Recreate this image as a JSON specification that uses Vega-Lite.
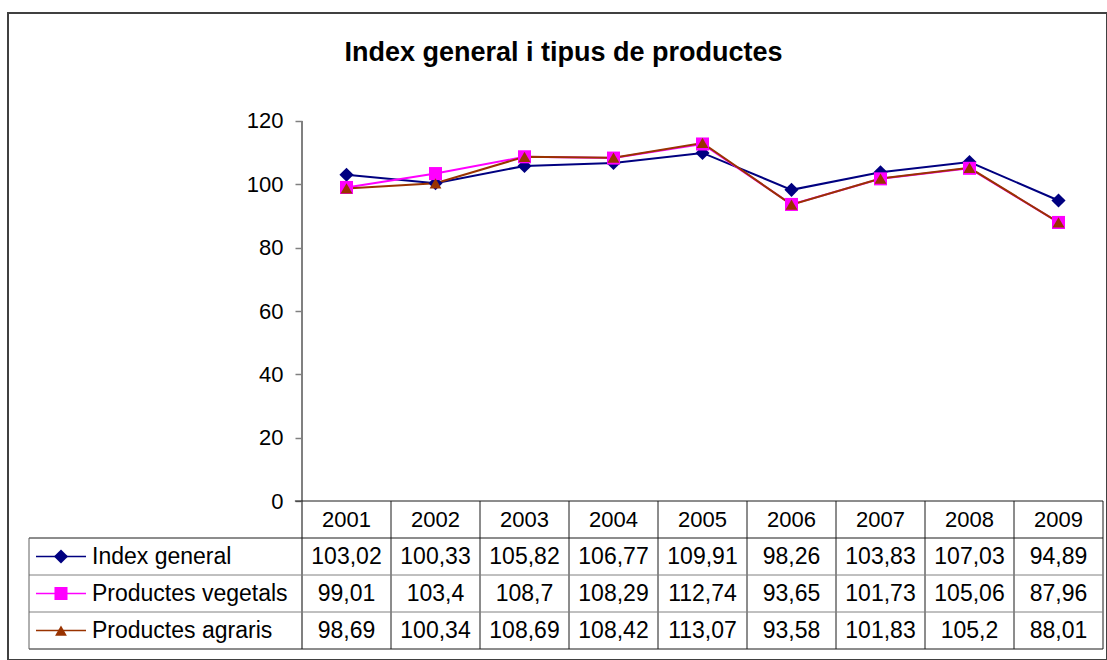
{
  "$schema": "https://vega.github.io/schema/vega-lite/v6.json",
  "width": 1099,
  "height": 647,
  "autosize": {"type": "none"},
  "padding": {"left": 8, "top": 13, "right": 0, "bottom": 0},
  "background": "white",
  "config": {
    "view": {"stroke": "#404040", "strokeWidth": 2},
    "font": "Liberation Sans",
    "text": {"font": "Liberation Sans", "fontSize": 23, "color": "black", "baseline": "middle"}
  },
  "title": {
    "text": "Index general i tipus de productes",
    "font": "Liberation Sans",
    "fontSize": 27,
    "fontWeight": "bold",
    "color": "black",
    "anchor": "middle",
    "frame": "group",
    "offset": 0,
    "baseline": "alphabetic",
    "dy": 75,
    "dx": 6
  },
  "datasets": {
    "series": [
      {"year": 2001, "series": "Index general", "value": 103.02},
      {"year": 2002, "series": "Index general", "value": 100.33},
      {"year": 2003, "series": "Index general", "value": 105.82},
      {"year": 2004, "series": "Index general", "value": 106.77},
      {"year": 2005, "series": "Index general", "value": 109.91},
      {"year": 2006, "series": "Index general", "value": 98.26},
      {"year": 2007, "series": "Index general", "value": 103.83},
      {"year": 2008, "series": "Index general", "value": 107.03},
      {"year": 2009, "series": "Index general", "value": 94.89},
      {"year": 2001, "series": "Productes vegetals", "value": 99.01},
      {"year": 2002, "series": "Productes vegetals", "value": 103.4},
      {"year": 2003, "series": "Productes vegetals", "value": 108.7},
      {"year": 2004, "series": "Productes vegetals", "value": 108.29},
      {"year": 2005, "series": "Productes vegetals", "value": 112.74},
      {"year": 2006, "series": "Productes vegetals", "value": 93.65},
      {"year": 2007, "series": "Productes vegetals", "value": 101.73},
      {"year": 2008, "series": "Productes vegetals", "value": 105.06},
      {"year": 2009, "series": "Productes vegetals", "value": 87.96},
      {"year": 2001, "series": "Productes agraris", "value": 98.69},
      {"year": 2002, "series": "Productes agraris", "value": 100.34},
      {"year": 2003, "series": "Productes agraris", "value": 108.69},
      {"year": 2004, "series": "Productes agraris", "value": 108.42},
      {"year": 2005, "series": "Productes agraris", "value": 113.07},
      {"year": 2006, "series": "Productes agraris", "value": 93.58},
      {"year": 2007, "series": "Productes agraris", "value": 101.83},
      {"year": 2008, "series": "Productes agraris", "value": 105.2},
      {"year": 2009, "series": "Productes agraris", "value": 88.01}
    ],
    "years": [
      {"year": 2001}, {"year": 2002}, {"year": 2003}, {"year": 2004}, {"year": 2005},
      {"year": 2006}, {"year": 2007}, {"year": 2008}, {"year": 2009}
    ],
    "names": [
      {"series": "Index general"},
      {"series": "Productes vegetals"},
      {"series": "Productes agraris"}
    ],
    "one": [{}]
  },
  "resolve": {"scale": {"y": "independent"}},
  "layer": [
    {
      "data": {"name": "one"},
      "mark": {"type": "rule", "color": "#808080", "strokeWidth": 2},
      "encoding": {
        "x": {"datum": 2000.5, "type": "quantitative", "scale": {"domain": [1997.1966, 2009.5449], "nice": false, "zero": false}, "axis": null},
        "y": {"datum": 0, "type": "quantitative", "scale": {"domain": [-50.21, 154.105], "nice": false, "zero": false}, "axis": null},
        "y2": {"datum": 120}
      }
    },
    {
      "data": {"name": "one"},
      "mark": {"type": "rule", "color": "#808080", "strokeWidth": 2},
      "encoding": {
        "x": {"datum": 2000.5, "type": "quantitative", "scale": {"domain": [1997.1966, 2009.5449], "nice": false, "zero": false}, "axis": null},
        "y": {"datum": 0, "type": "quantitative", "scale": {"domain": [-13.189, 4.297], "nice": false, "zero": false, "reverse": true}, "axis": null},
        "y2": {"datum": 4}
      }
    },
    {
      "data": {"name": "years"},
      "transform": [{"calculate": "datum.year + 0.5", "as": "edge"}],
      "mark": {"type": "rule", "color": "#1a1a1a", "strokeWidth": 1},
      "encoding": {
        "x": {"field": "edge", "type": "quantitative", "scale": {"domain": [1997.1966, 2009.5449], "nice": false, "zero": false}, "axis": null},
        "y": {"datum": 0, "type": "quantitative", "scale": {"domain": [-13.189, 4.297], "nice": false, "zero": false, "reverse": true}, "axis": null},
        "y2": {"datum": 4}
      }
    },
    {
      "data": {"name": "one"},
      "mark": {"type": "rule", "color": "#1a1a1a", "strokeWidth": 1},
      "encoding": {
        "x": {"datum": 2000.42, "type": "quantitative", "scale": {"domain": [1997.1966, 2009.5449], "nice": false, "zero": false}, "axis": null},
        "x2": {"datum": 2009.5},
        "y": {"datum": 0, "type": "quantitative", "scale": {"domain": [-13.189, 4.297], "nice": false, "zero": false, "reverse": true}, "axis": null}
      }
    },
    {
      "data": {"name": "names"},
      "transform": [
        {"calculate": "indexof(['Index general','Productes vegetals','Productes agraris'], datum.series) + 1", "as": "row"}
      ],
      "mark": {"type": "rule", "strokeWidth": 1},
      "encoding": {
        "x": {"datum": 1997.4326, "type": "quantitative", "scale": {"domain": [1997.1966, 2009.5449], "nice": false, "zero": false}, "axis": null},
        "x2": {"datum": 2009.5},
        "y": {"field": "row", "type": "quantitative", "scale": {"domain": [-13.189, 4.297], "nice": false, "zero": false, "reverse": true}, "axis": null},
        "color": {"condition": {"test": "datum.row == 1", "value": "#1a1a1a"}, "value": "#808080"}
      }
    },
    {
      "data": {"name": "one"},
      "mark": {"type": "rule", "color": "#1a1a1a", "strokeWidth": 1},
      "encoding": {
        "x": {"datum": 1997.4326, "type": "quantitative", "scale": {"domain": [1997.1966, 2009.5449], "nice": false, "zero": false}, "axis": null},
        "x2": {"datum": 2009.5},
        "y": {"datum": 4, "type": "quantitative", "scale": {"domain": [-13.189, 4.297], "nice": false, "zero": false, "reverse": true}, "axis": null}
      }
    },
    {
      "data": {"name": "one"},
      "mark": {"type": "rule", "color": "#606060", "strokeWidth": 1},
      "encoding": {
        "x": {"datum": 1997.4326, "type": "quantitative", "scale": {"domain": [1997.1966, 2009.5449], "nice": false, "zero": false}, "axis": null},
        "y": {"datum": 1, "type": "quantitative", "scale": {"domain": [-13.189, 4.297], "nice": false, "zero": false, "reverse": true}, "axis": null},
        "y2": {"datum": 4}
      }
    },
    {
      "data": {"name": "series"},
      "mark": {"type": "line", "strokeWidth": 2},
      "encoding": {
        "x": {"field": "year", "type": "quantitative", "scale": {"domain": [1997.1966, 2009.5449], "nice": false, "zero": false}, "axis": null},
        "y": {
          "field": "value", "type": "quantitative",
          "scale": {"domain": [-50.21, 154.105], "nice": false, "zero": false},
          "axis": {
            "values": [0, 20, 40, 60, 80, 100, 120],
            "domain": false, "grid": false,
            "offset": -294,
            "tickColor": "#808080", "tickSize": 7, "tickWidth": 1.5,
            "labelFont": "Liberation Sans", "labelFontSize": 22, "labelColor": "black",
            "labelPadding": 12, "title": null
          }
        },
        "color": {
          "field": "series", "type": "nominal",
          "scale": {"domain": ["Index general", "Productes vegetals", "Productes agraris"], "range": ["#000080", "#FF00FF", "#993300"]},
          "legend": null
        }
      }
    },
    {
      "data": {"name": "series"},
      "mark": {"type": "point", "filled": true, "opacity": 1},
      "encoding": {
        "x": {"field": "year", "type": "quantitative", "scale": {"domain": [1997.1966, 2009.5449], "nice": false, "zero": false}, "axis": null},
        "y": {"field": "value", "type": "quantitative", "scale": {"domain": [-50.21, 154.105], "nice": false, "zero": false}, "axis": null},
        "color": {
          "field": "series", "type": "nominal",
          "scale": {"domain": ["Index general", "Productes vegetals", "Productes agraris"], "range": ["#000080", "#FF00FF", "#993300"]},
          "legend": null
        },
        "shape": {
          "field": "series", "type": "nominal",
          "scale": {"domain": ["Index general", "Productes vegetals", "Productes agraris"], "range": ["diamond", "square", "triangle-up"]},
          "legend": null
        },
        "size": {
          "field": "series", "type": "nominal",
          "scale": {"domain": ["Index general", "Productes vegetals", "Productes agraris"], "range": [200, 140, 220]},
          "legend": null
        }
      }
    },
    {
      "data": {"name": "years"},
      "mark": {"type": "text", "align": "center", "fontSize": 22},
      "encoding": {
        "x": {"field": "year", "type": "quantitative", "scale": {"domain": [1997.1966, 2009.5449], "nice": false, "zero": false}, "axis": null},
        "y": {"datum": 0.5, "type": "quantitative", "scale": {"domain": [-13.189, 4.297], "nice": false, "zero": false, "reverse": true}, "axis": null},
        "text": {"field": "year", "type": "nominal"}
      }
    },
    {
      "data": {"name": "series"},
      "transform": [
        {"calculate": "indexof(['Index general','Productes vegetals','Productes agraris'], datum.series) + 1.5", "as": "rc"},
        {"calculate": "replace(format(datum.value, '.2~f'), '.', ',')", "as": "label"}
      ],
      "mark": {"type": "text", "align": "center"},
      "encoding": {
        "x": {"field": "year", "type": "quantitative", "scale": {"domain": [1997.1966, 2009.5449], "nice": false, "zero": false}, "axis": null},
        "y": {"field": "rc", "type": "quantitative", "scale": {"domain": [-13.189, 4.297], "nice": false, "zero": false, "reverse": true}, "axis": null},
        "text": {"field": "label", "type": "nominal"}
      }
    },
    {
      "data": {"name": "names"},
      "transform": [
        {"calculate": "indexof(['Index general','Productes vegetals','Productes agraris'], datum.series) + 1.5", "as": "rc"}
      ],
      "mark": {"type": "text", "align": "left"},
      "encoding": {
        "x": {"datum": 1998.1404, "type": "quantitative", "scale": {"domain": [1997.1966, 2009.5449], "nice": false, "zero": false}, "axis": null},
        "y": {"field": "rc", "type": "quantitative", "scale": {"domain": [-13.189, 4.297], "nice": false, "zero": false, "reverse": true}, "axis": null},
        "text": {"field": "series", "type": "nominal"}
      }
    },
    {
      "data": {"name": "names"},
      "transform": [
        {"calculate": "indexof(['Index general','Productes vegetals','Productes agraris'], datum.series) + 1.5", "as": "rc"}
      ],
      "mark": {"type": "rule", "strokeWidth": 1.5},
      "encoding": {
        "x": {"datum": 1997.5112, "type": "quantitative", "scale": {"domain": [1997.1966, 2009.5449], "nice": false, "zero": false}, "axis": null},
        "x2": {"datum": 1998.073},
        "y": {"field": "rc", "type": "quantitative", "scale": {"domain": [-13.189, 4.297], "nice": false, "zero": false, "reverse": true}, "axis": null},
        "color": {
          "field": "series", "type": "nominal",
          "scale": {"domain": ["Index general", "Productes vegetals", "Productes agraris"], "range": ["#000080", "#FF00FF", "#993300"]},
          "legend": null
        }
      }
    },
    {
      "data": {"name": "names"},
      "transform": [
        {"calculate": "indexof(['Index general','Productes vegetals','Productes agraris'], datum.series) + 1.5", "as": "rc"}
      ],
      "mark": {"type": "point", "filled": true, "opacity": 1},
      "encoding": {
        "x": {"datum": 1997.792, "type": "quantitative", "scale": {"domain": [1997.1966, 2009.5449], "nice": false, "zero": false}, "axis": null},
        "y": {"field": "rc", "type": "quantitative", "scale": {"domain": [-13.189, 4.297], "nice": false, "zero": false, "reverse": true}, "axis": null},
        "color": {
          "field": "series", "type": "nominal",
          "scale": {"domain": ["Index general", "Productes vegetals", "Productes agraris"], "range": ["#000080", "#FF00FF", "#993300"]},
          "legend": null
        },
        "shape": {
          "field": "series", "type": "nominal",
          "scale": {"domain": ["Index general", "Productes vegetals", "Productes agraris"], "range": ["diamond", "square", "triangle-up"]},
          "legend": null
        },
        "size": {
          "field": "series", "type": "nominal",
          "scale": {"domain": ["Index general", "Productes vegetals", "Productes agraris"], "range": [140, 120, 160]},
          "legend": null
        }
      }
    }
  ]
}
